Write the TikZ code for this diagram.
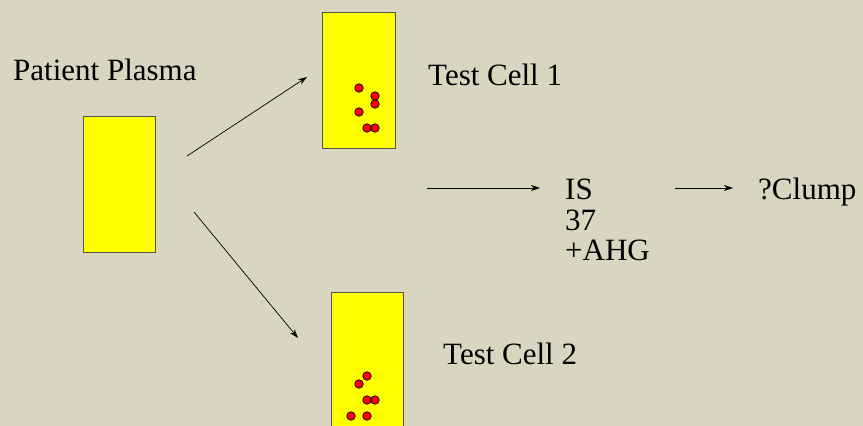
\documentclass[tikz,border=0pt]{standalone}
\usepackage{fontspec}
\newfontfamily\slidefont{LiberationSerif}[Extension=.ttf, UprightFont=*-Regular]
\usetikzlibrary{arrows.meta}
\definecolor{slideBack}{HTML}{D8D6C0}
\definecolor{tubeYellow}{HTML}{FFFF00}
\definecolor{tubeEdge}{HTML}{55553F}
\definecolor{cellRed}{HTML}{FF0000}

\begin{document}
\begin{tikzpicture}[x=1pt, y=-1pt,
	tube/.style={draw=tubeEdge, fill=tubeYellow, line width=1pt, anchor=north west, inner sep=0pt},
	cell/.style={circle, draw=black, fill=cellRed, line width=0.7pt, inner sep=0pt, minimum size=8.5pt},
	label/.style={anchor=base west, inner sep=0pt, font=\slidefont\fontsize{31}{31}\selectfont},
	flow/.style={-{Stealth[length=9pt,width=6pt]}, line width=0.7pt}]
	\fill[slideBack] (0,0) rectangle (863,426);
	\clip (0,0) rectangle (863,426);

	% tubes
	\node[tube, minimum width=72pt, minimum height=136pt] (plasma) at (83,116) {};
	\node[tube, minimum width=73pt, minimum height=136pt] (cellone) at (322,12) {};
	\node[tube, minimum width=72pt, minimum height=160pt] (celltwo) at (331,292) {};

	% red cells
	\foreach \x/\y [count=\i] in {359/88, 375/96, 375/104, 359/112, 367/128, 375/128}
		\node[cell] (redA\i) at (\x,\y) {};
	\foreach \x/\y [count=\i] in {367/376, 359/384, 367/400, 375/400, 351/416, 367/416}
		\node[cell] (redB\i) at (\x,\y) {};

	% labels
	\node[label] (plasmaText) at (13,80) {Patient Plasma};
	\node[label] (oneText) at (428,85) {Test Cell 1};
	\node[label] (twoText) at (443,364) {Test Cell 2};
	\node[label] (isText) at (565,199) {IS};
	\node[label] (warmText) at (565,230) {37};
	\node[label] (ahgText) at (565,260) {+AHG};
	\node[label] (clumpText) at (758,199) {?Clump};

	% arrows
	\coordinate (upStart) at (187,156);
	\coordinate (upEnd) at (307,77);
	\coordinate (downStart) at (194,212);
	\coordinate (downEnd) at (298,338);
	\coordinate (midStart) at (427,188);
	\coordinate (midEnd) at (540,188);
	\coordinate (rightStart) at (675,188);
	\coordinate (rightEnd) at (733,188);
	\draw[flow] (upStart) -- (upEnd);
	\draw[flow] (downStart) -- (downEnd);
	\draw[flow] (midStart) -- (midEnd);
	\draw[flow] (rightStart) -- (rightEnd);
\end{tikzpicture}
\end{document}
